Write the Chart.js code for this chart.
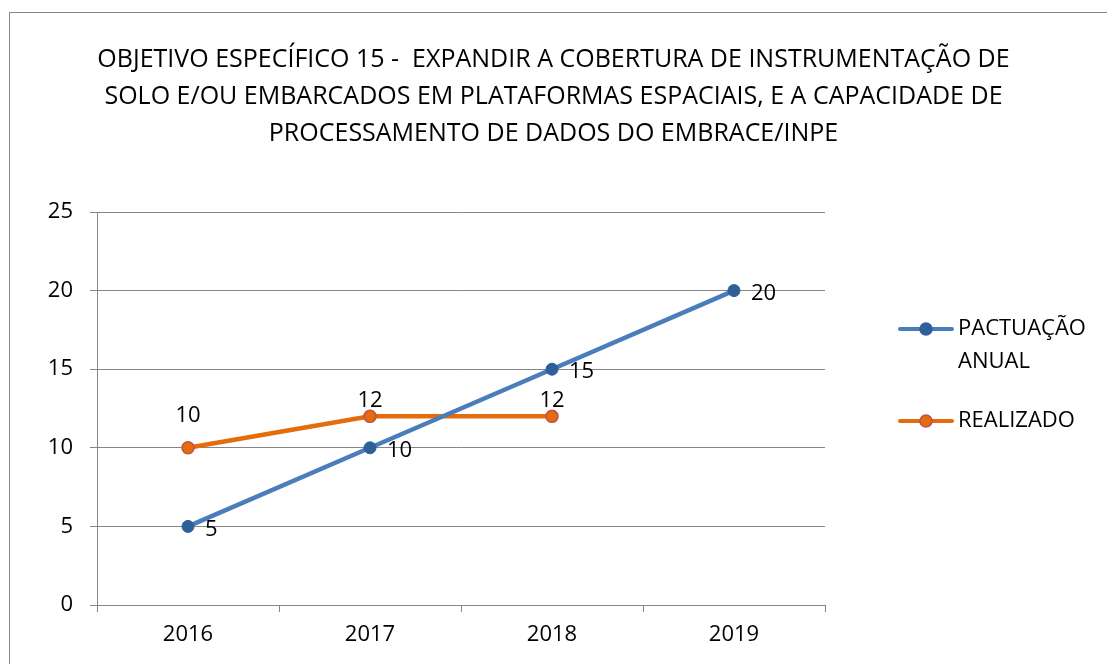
<!DOCTYPE html>
<html>
<head>
<meta charset="utf-8">
<script src="https://cdn.jsdelivr.net/npm/chart.js@4/dist/chart.umd.min.js"></script>
<style>
  html, body { margin: 0; padding: 0; background: #fff; }
  canvas { display: block; }
</style>
</head>
<body>
<canvas id="chart" width="1107" height="664"></canvas>
<script>
// values
const years = ['2016', '2017', '2018', '2019'];
const pactuacao = [5, 10, 15, 20];
const realizado = [10, 12, 12, null];
const seriesNames = ['PACTUAÇÃO ANUAL', 'REALIZADO'];
const titleLines = [
  'OBJETIVO ESPECÍFICO 15 -  EXPANDIR A COBERTURA DE INSTRUMENTAÇÃO DE',
  'SOLO E/OU EMBARCADOS EM PLATAFORMAS ESPACIAIS, E A CAPACIDADE DE',
  'PROCESSAMENTO DE DADOS DO EMBRACE/INPE'
];
const yTicks = [0, 5, 10, 15, 20, 25];

const FONT = '"Open Sans", Lato, sans-serif';
const GRID = '#868686';

// frame, title, legend and the value labels
const decorations = {
  id: 'decorations',
  beforeDraw(chart) {
    const ctx = chart.ctx;
    ctx.save();
    ctx.strokeStyle = GRID;
    ctx.lineWidth = 1;
    ctx.strokeRect(9.5, 12.5, 1200, 1000);
    ctx.restore();
  },
  afterDatasetsDraw(chart) {
    const ctx = chart.ctx;
    ctx.save();
    ctx.fillStyle = '#000';
    ctx.font = '22px ' + FONT;
    chart.data.datasets.forEach((ds, i) => {
      const meta = chart.getDatasetMeta(i);
      meta.data.forEach((pt, j) => {
        const v = ds.data[j];
        if (v == null) return;
        ctx.textBaseline = 'middle';
        if (ds.labelSide === 'right') {
          ctx.textAlign = 'left';
          ctx.fillText(String(v), pt.x + 17, pt.y + 3);
        } else {
          ctx.textAlign = 'center';
          ctx.fillText(String(v), pt.x, pt.y + ds.labelDy[j]);
        }
      });
    });
    ctx.restore();
  },
  afterDraw(chart) {
    const ctx = chart.ctx;
    ctx.save();
    // title
    ctx.fillStyle = '#000';
    ctx.font = '25px ' + FONT;
    ctx.textAlign = 'center';
    ctx.textBaseline = 'middle';
    titleLines.forEach((t, i) => ctx.fillText(t, chart.width / 2, 60 + i * 37));

    // legend
    ctx.font = '22px ' + FONT;
    ctx.textAlign = 'left';
    let y = 329;
    chart.data.datasets.forEach((ds) => {
      ctx.strokeStyle = ds.borderColor;
      ctx.lineWidth = 4;
      ctx.lineCap = 'round';
      ctx.beginPath();
      ctx.moveTo(900, y);
      ctx.lineTo(952, y);
      ctx.stroke();
      ctx.beginPath();
      ctx.arc(926, y, 6, 0, Math.PI * 2);
      ctx.fillStyle = ds.pointBackgroundColor;
      ctx.fill();
      ctx.lineWidth = 1.5;
      ctx.strokeStyle = ds.pointBorderColor;
      ctx.stroke();
      // wrap label
      const words = ds.label.split(' ');
      const lines = [];
      let cur = '';
      words.forEach(w => {
        const test = cur ? cur + ' ' + w : w;
        if (cur && ctx.measureText(test).width > 140) { lines.push(cur); cur = w; }
        else cur = test;
      });
      lines.push(cur);
      ctx.fillStyle = '#000';
      lines.forEach((l, k) => ctx.fillText(l, 958, y + k * 33));
      y += 92;
    });
    ctx.restore();
  }
};

new Chart(document.getElementById('chart'), {
  type: 'line',
  data: {
    labels: years,
    datasets: [{
      label: seriesNames[0],
      data: pactuacao,
      borderColor: '#4a7ebb',
      backgroundColor: '#4a7ebb',
      pointBackgroundColor: '#2f5f98',
      pointBorderColor: '#2f5f98',
      borderWidth: 4.5,
      pointRadius: 6,
      pointBorderWidth: 1,
      tension: 0,
      labelSide: 'right'
    }, {
      label: seriesNames[1],
      data: realizado,
      borderColor: '#e46c0a',
      backgroundColor: '#e46c0a',
      pointBackgroundColor: '#e46c0a',
      pointBorderColor: '#c0504d',
      borderWidth: 4.5,
      pointRadius: 6,
      pointBorderWidth: 1.5,
      tension: 0,
      labelSide: 'above',
      labelDy: [-32, -16, -16]
    }]
  },
  options: {
    responsive: false,
    animation: false,
    devicePixelRatio: 1,
    layout: { padding: { top: 212, right: 282, bottom: 0, left: 0 } },
    plugins: {
      legend: { display: false },
      title: { display: false },
      tooltip: { enabled: false }
    },
    scales: {
      x: {
        offset: true,
        grid: { drawOnChartArea: false, drawTicks: true, tickLength: 7, color: GRID, offset: true },
        border: { display: true, color: GRID, width: 1 },
        ticks: { color: '#000', font: { family: FONT, size: 22 }, padding: 10 },
        afterFit(scale) { scale.height = 59; }
      },
      y: {
        min: 0,
        max: 25,
        afterBuildTicks(scale) { scale.ticks = yTicks.map(v => ({ value: v })); },
        grid: { color: GRID, tickLength: 7, drawTicks: true },
        border: { display: true, color: GRID, width: 1 },
        ticks: { color: '#000', font: { family: FONT, size: 22 }, padding: 17 },
        afterFit(scale) { scale.width = 97; }
      }
    }
  },
  plugins: [decorations]
});
</script>
</body>
</html>
